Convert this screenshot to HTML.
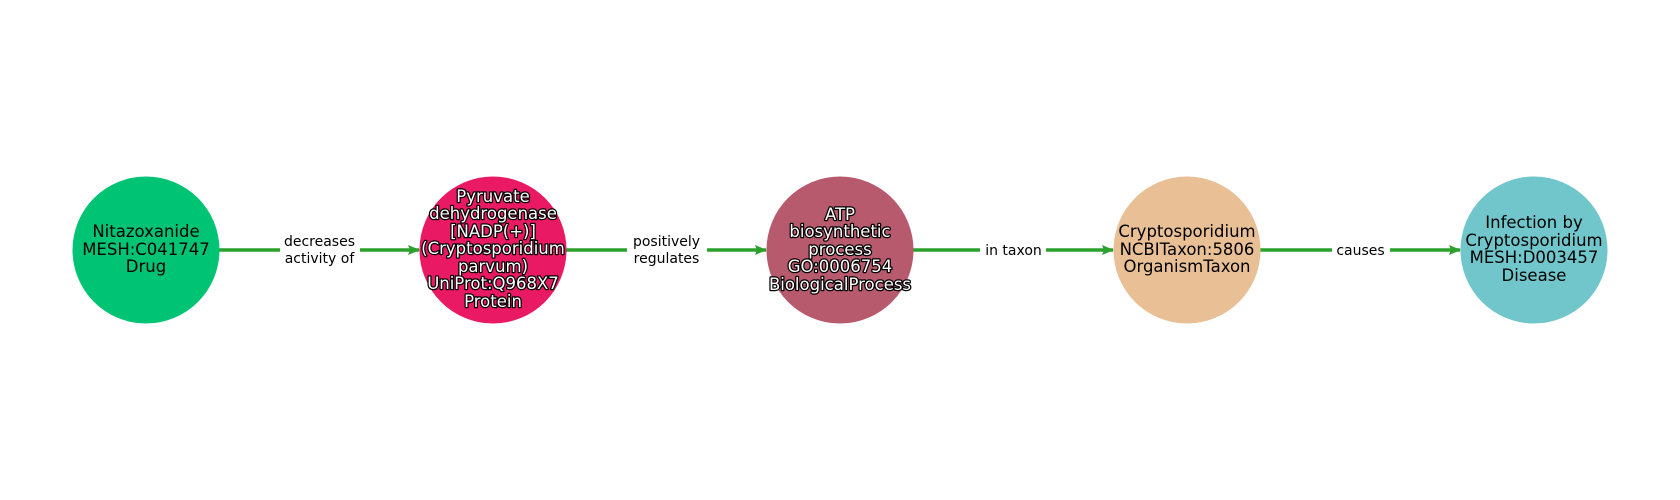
<!DOCTYPE html>
<html><head><meta charset="utf-8"><style>
html,body{margin:0;padding:0;background:#fff;}
svg{display:block;}
text{font-family:"DejaVu Sans","Liberation Sans",sans-serif;}
.n{font-size:16.5px;text-anchor:middle;fill:#000;}
.o{font-size:16.5px;text-anchor:middle;fill:#fff;stroke:#000;stroke-width:2.5px;paint-order:stroke;stroke-linejoin:round;}
.e{font-size:14px;text-anchor:middle;fill:#000;}
</style></head><body>
<svg width="1680" height="500" viewBox="0 0 1680 500" xmlns="http://www.w3.org/2000/svg">
<defs><marker id="a" markerWidth="12" markerHeight="10" refX="11" refY="5" orient="auto" markerUnits="userSpaceOnUse"><path d="M0,0 L12,5 L0,10 L2,5 Z" fill="#2ca02c"/></marker></defs>
<g stroke="#2ca02c" stroke-width="3.5" fill="none" marker-end="url(#a)">
<line x1="219" y1="250" x2="419" y2="250"/>
<line x1="566" y1="250" x2="766" y2="250"/>
<line x1="913" y1="250" x2="1113" y2="250"/>
<line x1="1260" y1="250" x2="1460" y2="250"/>
</g>
<circle cx="146" cy="250" r="73.5" fill="#00c373"/>
<circle cx="493" cy="250" r="73.5" fill="#e91a63"/>
<circle cx="840" cy="250" r="73.5" fill="#b75a6e"/>
<circle cx="1187" cy="250" r="73.5" fill="#e9c096"/>
<circle cx="1534" cy="250" r="73.5" fill="#71c6cb"/>
<rect x="280" y="232" width="80" height="36" fill="#fff"/>
<rect x="627" y="232" width="80" height="36" fill="#fff"/>
<rect x="980" y="240" width="66" height="20" fill="#fff"/>
<rect x="1332" y="240" width="58" height="20" fill="#fff"/>
<text class="e" x="319.5" y="246">decreases</text><text class="e" x="319.5" y="263">activity of</text>
<text class="e" x="666.5" y="246">positively</text><text class="e" x="666.5" y="263">regulates</text>
<text class="e" x="1013.5" y="255">in taxon</text>
<text class="e" x="1360.5" y="255">causes</text>
<text class="n" x="146" y="237">Nitazoxanide</text><text class="n" x="146" y="255">MESH:C041747</text><text class="n" x="146" y="272">Drug</text>
<g>
<text class="o" x="493" y="202">Pyruvate</text>
<text class="o" x="493" y="219">dehydrogenase</text>
<text class="o" x="493" y="237">[NADP(+)]</text>
<text class="o" x="493" y="254">(Cryptosporidium</text>
<text class="o" x="493" y="272">parvum)</text>
<text class="o" x="493" y="289">UniProt:Q968X7</text>
<text class="o" x="493" y="307">Protein</text>
<text class="o" x="840" y="220">ATP</text>
<text class="o" x="840" y="237">biosynthetic</text>
<text class="o" x="840" y="255">process</text>
<text class="o" x="840" y="272">GO:0006754</text>
<text class="o" x="840" y="290">BiologicalProcess</text>
</g>
<text class="n" x="1187" y="237">Cryptosporidium</text><text class="n" x="1187" y="255">NCBITaxon:5806</text><text class="n" x="1187" y="272">OrganismTaxon</text>
<text class="n" x="1534" y="228">Infection by</text><text class="n" x="1534" y="246">Cryptosporidium</text><text class="n" x="1534" y="263">MESH:D003457</text><text class="n" x="1534" y="281">Disease</text>
</svg>
</body></html>
